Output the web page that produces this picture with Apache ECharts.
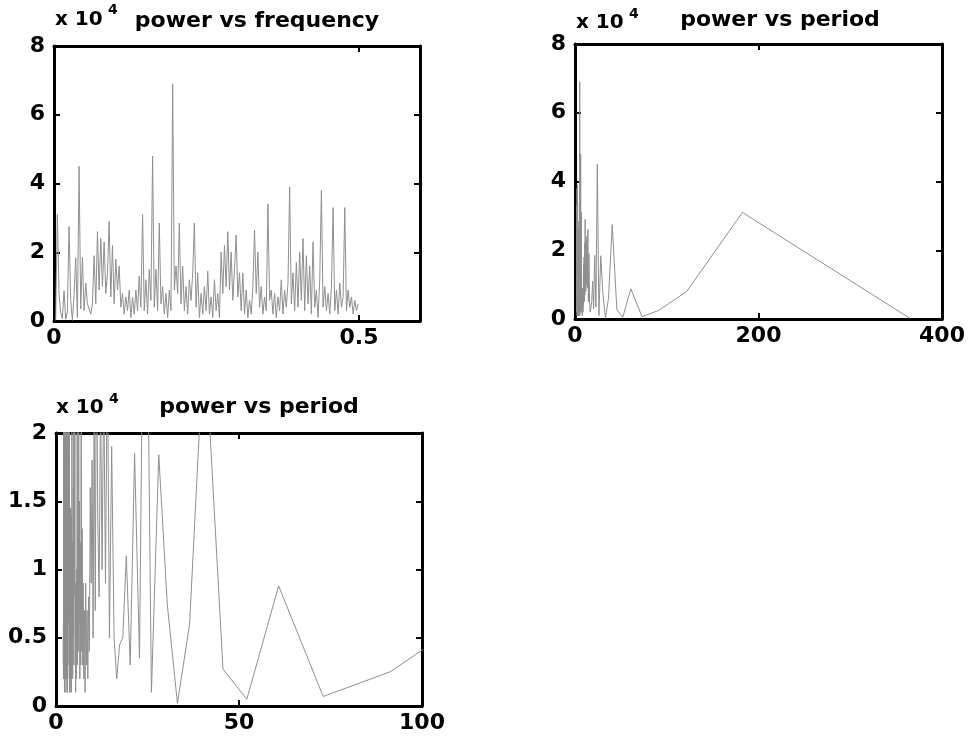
<!DOCTYPE html>
<html>
<head>
<meta charset="utf-8">
<script src="https://cdn.jsdelivr.net/npm/echarts@6/dist/echarts.min.js"></script>
<style>
html,body{margin:0;padding:0;background:#fff;}
#chart{width:969px;height:740px;}
</style>
</head>
<body>
<div id="chart"></div>
<script>
// Periodogram of a 365-sample series: bin k (k = 1..182) has frequency k/365 and period 365/k.
const sampleCount = 365;

// Power per frequency bin, in units of 10^4, bins k = 1..182
const powerE4 = [
  0.02, 3.1, 0.8, 0.25, 0.07, 0.88, 0.05, 0.27, 2.75, 0.6,
  0.02, 0.74, 1.84, 0.1, 4.5, 0.35, 1.85, 0.3, 1.1, 0.5,
  0.45, 0.2, 0.5, 1.9, 0.5, 2.6, 0.9, 2.4, 1.0, 2.3,
  0.8, 1.4, 2.9, 0.7, 2.2, 0.5, 1.8, 0.9, 1.6, 0.4,
  0.8, 0.2, 0.7, 0.3, 0.9, 0.1, 0.7, 0.2, 0.9, 0.3,
  1.3, 0.4, 3.1, 0.3, 1.2, 0.2, 1.5, 0.6, 4.8, 0.4,
  1.5, 0.3, 2.85, 0.5, 1.0, 0.2, 0.8, 0.1, 0.9, 0.3,
  6.9, 0.9, 1.6, 0.8, 2.85, 0.5, 1.6, 0.3, 1.0, 0.2,
  1.2, 0.6, 1.4, 2.85, 0.4, 1.4, 0.1, 0.8, 0.2, 1.0,
  0.3, 1.45, 0.2, 0.7, 0.1, 1.2, 0.3, 0.8, 0.1, 2.0,
  0.8, 2.2, 1.0, 2.6, 0.9, 2.0, 0.6, 1.5, 2.5, 0.7,
  1.4, 0.3, 1.4, 0.2, 0.9, 0.1, 0.6, 0.2, 1.0, 2.65,
  0.8, 2.0, 0.4, 1.0, 0.2, 0.7, 0.3, 3.4, 0.6, 0.9,
  0.2, 0.8, 0.1, 0.7, 0.3, 1.2, 0.2, 0.9, 0.4, 1.1,
  3.9, 0.5, 1.4, 0.3, 1.7, 0.4, 2.0, 0.6, 2.4, 0.3,
  1.9, 0.5, 1.6, 0.2, 2.3, 0.4, 0.9, 0.1, 1.2, 3.8,
  0.4, 1.0, 0.3, 0.8, 0.2, 1.0, 3.3, 0.3, 0.9, 0.2,
  1.1, 0.4, 0.7, 3.3, 0.3, 0.9, 0.4, 0.7, 0.2, 0.6,
  0.3, 0.5
];

// Axis tick values
const freqTicks = [0, 0.5];
const periodTicksWide = [0, 200, 400];
const periodTicksZoom = [0, 50, 100];
const powerTicksWide = [0, 2, 4, 6, 8];
const powerTicksZoom = [0, 0.5, 1, 1.5, 2];

const titles = ['power vs frequency', 'power vs period', 'power vs period'];

// derived coordinates (the chart itself plots the same bins against f and 1/f)
const frequency = powerE4.map((_, i) => (i + 1) / sampleCount);
const period = frequency.map(f => 1 / f);

const freqPairs = frequency.map((f, i) => [f, powerE4[i]]);
const periodPairs = period.map((p, i) => [p, powerE4[i]]);

const FONT = 'DejaVu Sans';
const lblStyle = {fontFamily: FONT, fontWeight: 'bold', fontSize: 22, color: '#000'};
const frameLine = {show: true, onZero: false, lineStyle: {color: '#000', width: 3}};
const tickIn = {show: true, inside: true, length: 6, lineStyle: {color: '#000', width: 2}};

function fmt(list) {
  return function (v) {
    for (const t of list) if (Math.abs(t - v) < 1e-9) return String(t);
    return '';
  };
}

function xPair(grid, min, max, interval, ticks) {
  return [
    {type: 'value', gridIndex: grid, position: 'bottom', min, max, interval,
     axisLine: frameLine, axisTick: tickIn, splitLine: {show: false},
     axisLabel: Object.assign({margin: 6, formatter: fmt(ticks), showMaxLabel: true}, lblStyle)},
    {type: 'value', gridIndex: grid, position: 'top', min, max, interval,
     axisLine: frameLine, axisTick: tickIn, splitLine: {show: false}, axisLabel: {show: false}}
  ];
}
function yPair(grid, min, max, interval, ticks) {
  return [
    {type: 'value', gridIndex: grid, position: 'left', min, max, interval,
     axisLine: frameLine, axisTick: tickIn, splitLine: {show: false},
     axisLabel: Object.assign({margin: 9, formatter: fmt(ticks)}, lblStyle)},
    {type: 'value', gridIndex: grid, position: 'right', min, max, interval,
     axisLine: frameLine, axisTick: tickIn, splitLine: {show: false}, axisLabel: {show: false}}
  ];
}

const lineStyle = {color: '#8f8f8f', width: 1};
function lineSeries(xi, yi, data) {
  return {type: 'line', xAxisIndex: xi, yAxisIndex: yi, data, showSymbol: false, symbol: 'none',
          lineStyle, clip: true, animation: false, silent: true};
}

function txt(text, x, y, size, weight, align) {
  return {type: 'text', x, y, silent: true,
          style: {text, fontFamily: FONT, fontSize: size, fontWeight: weight, fill: '#000',
                  align: align || 'center', verticalAlign: 'middle'}};
}

const chart = echarts.init(document.getElementById('chart'), null, {renderer: 'canvas'});
chart.setOption({
  animation: false,
  backgroundColor: '#fff',
  grid: [
    {left: 54, top: 46, width: 366, height: 275},
    {left: 575, top: 44, width: 367, height: 275},
    {left: 56, top: 433, width: 366, height: 273}
  ],
  xAxis: [].concat(
    xPair(0, 0, 0.6, 0.5, freqTicks),
    xPair(1, 0, 400, 200, periodTicksWide),
    xPair(2, 0, 100, 50, periodTicksZoom)
  ),
  yAxis: [].concat(
    yPair(0, 0, 8, 2, powerTicksWide),
    yPair(1, 0, 8, 2, powerTicksWide),
    yPair(2, 0, 2, 0.5, powerTicksZoom)
  ),
  series: [
    lineSeries(0, 0, freqPairs),
    lineSeries(2, 2, periodPairs),
    lineSeries(4, 4, periodPairs)
  ],
  graphic: [
    txt(titles[0], 257, 21, 22, 'bold'),
    txt(titles[1], 780, 20, 22, 'bold'),
    txt(titles[2], 259, 407, 22, 'bold'),
    txt('x 10', 55, 20, 20, 'bold', 'left'),
    txt('4', 108, 10, 14, 'bold', 'left'),
    txt('x 10', 576, 23, 20, 'bold', 'left'),
    txt('4', 629, 14, 14, 'bold', 'left'),
    txt('x 10', 56, 408, 20, 'bold', 'left'),
    txt('4', 109, 399, 14, 'bold', 'left')
  ]
});
</script>
</body>
</html>
